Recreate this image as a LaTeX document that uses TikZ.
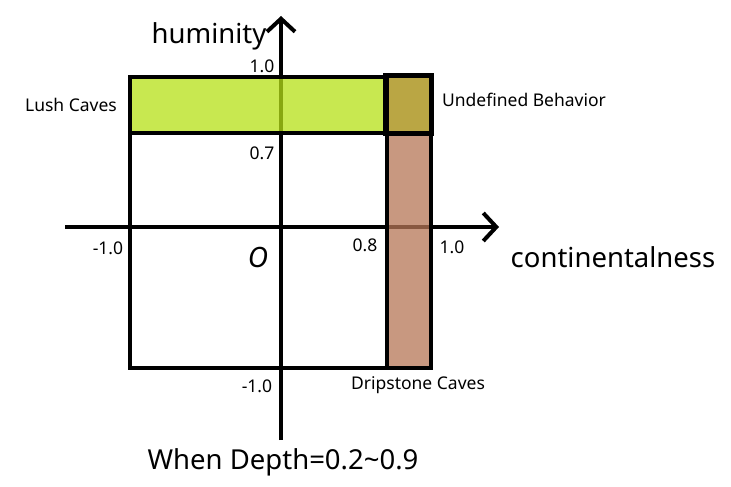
\documentclass[tikz,border=0pt]{standalone}
\usepackage{fontspec}
\setmainfont{Noto Sans}
\usetikzlibrary{arrows.meta}
\definecolor{lushg}{RGB}{182,224,22}
\definecolor{dripb}{RGB}{182,118,86}
\definecolor{undef}{RGB}{186,166,68}
\tikzset{
  axis/.style={line width=4pt, -{Straight Barb[length=13pt,width=28pt,line width=4pt]}},
  edge/.style={line width=4pt},
  lbl/.style={font=\fontsize{17.5}{20}\selectfont, inner sep=0pt},
  big/.style={font=\fontsize{27.5}{30}\selectfont, inner sep=0pt},
}
\begin{document}
\begin{tikzpicture}[x=1pt,y=-1pt]
\useasboundingbox (0,0) rectangle (731,487);
% coordinates
\coordinate (xs) at (65,227);
\coordinate (xe) at (499,227);
\coordinate (ys) at (281,440);
\coordinate (ye) at (281,16);
% axes
\draw[axis] (xs) -- (xe);
\draw[axis] (ys) -- (ye);
% region fills
\fill[lushg, opacity=0.75] (130,77) rectangle (387,133);
\fill[dripb, opacity=0.75] (387,133) rectangle (431,368);
\fill[undef] (387,76) rectangle (431,133);
% outlines
\draw[edge] (130,77) rectangle (387,368);
\draw[edge] (130,133) -- (387,133);
\draw[edge] (387,133) rectangle (431,368);
\draw[line width=5.5pt] (386,75.5) rectangle (431.5,133.5);
% labels
\node[lbl] (t10) at (262,66) {1.0};
\node[lbl] (t07) at (262,153) {0.7};
\node[lbl] (tm1l) at (108,248) {-1.0};
\node[font=\fontsize{28}{30}\selectfont\itshape, inner sep=0pt] (o) at (258,257) {O};
\node[lbl] (t08) at (365,245) {0.8};
\node[lbl] (t10r) at (452,247) {1.0};
\node[lbl] (tm1b) at (257,386) {-1.0};
\node[lbl] (lush) at (71,105) {Lush Caves};
\node[lbl] (undefl) at (524,100) {Undefined Behavior};
\node[lbl] (drip) at (418,385) {Dripstone Caves};
\node[big] (hum) at (209,36) {huminity};
\node[big] (cont) at (613,257) {continentalness};
\node[big] (depth) at (283,462) {When Depth=0.2\textasciitilde0.9};
\end{tikzpicture}
\end{document}
